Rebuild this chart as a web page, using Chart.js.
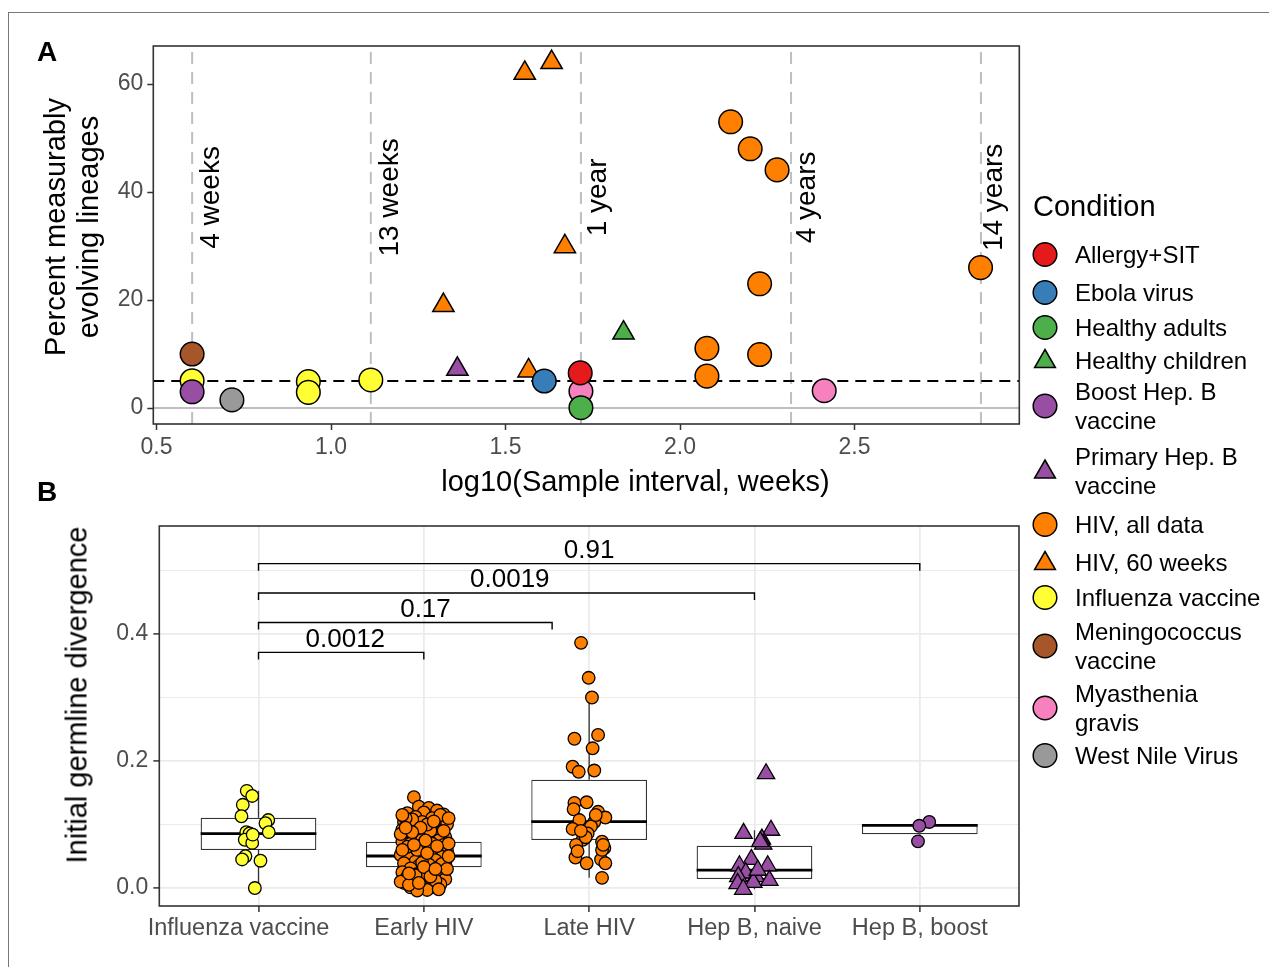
<!DOCTYPE html>
<html>
<head>
<meta charset="utf-8">
<script src="https://cdn.jsdelivr.net/npm/chart.js@4.4.1/dist/chart.umd.min.js"></script>
<style>
body { margin: 0; background: #fff; }
#page { position: relative; width: 1269px; height: 967px; overflow: hidden; background: #fff;
        font-family: 'Liberation Sans', Arial, Helvetica, sans-serif; }
#frame { position: absolute; left: 8px; top: 12px; width: 1300px; height: 1000px;
         border-top: 1px solid #777; border-left: 1px solid #777; }
canvas { position: absolute; left: 0; }
.panel-tag { position: absolute; font-weight: bold; font-size: 28px; transform: translate(-50%, -50%); }
.axis-title { position: absolute; font-size: 29px; color: #000; white-space: nowrap; text-align: center;
              transform: translate(-50%, -50%); line-height: 33px; }
.axis-title.rot { transform: translate(-50%, -50%) rotate(-90deg); }
#legend { position: absolute; left: 1031px; top: 0; color: #000; }
#legend .ttl { position: absolute; left: 2px; top: 206px; transform: translateY(-50%);
               font-size: 29px; line-height: 36px; white-space: nowrap; }
#legend .row { position: absolute; left: 0; display: flex; align-items: center; transform: translateY(-50%); }
#legend .key { width: 28px; height: 28px; margin-right: 16px; flex: none; }
#legend .txt { font-size: 24px; line-height: 29px; white-space: pre; }
</style>
</head>
<body>
<div id="page">
  <div id="frame"></div>
  <canvas id="chartA" width="1269" height="470" style="top:0"></canvas>
  <canvas id="chartB" width="1269" height="497" style="top:470px"></canvas>
  <div class="panel-tag" style="left:47px;top:52px">A</div>
  <div class="panel-tag" style="left:47px;top:492px">B</div>
  <div class="axis-title rot" style="left:71.5px;top:227px">Percent measurably<br>evolving lineages</div>
  <div class="axis-title" style="left:635.5px;top:481px">log10(Sample interval, weeks)</div>
  <div class="axis-title rot" style="left:77px;top:695px">Initial germline divergence</div>
  <div id="legend"><div class="ttl">Condition</div></div>
</div>
<script>
// ---------- Panel A: percent measurably evolving lineages vs log10(interval) ----------
const allergySit = [[1.714, 6.5]];
const ebolaVirus = [[1.611, 5.0]];
const healthyAdults = [[1.716, 0.05]];
const healthyChildren = [[1.838, 13.9]];
const boostHepB = [[0.602, 3.0]];
const primaryHepB = [[1.362, 7.2]];
const hivAllData = [[2.145, 53.0], [2.201, 48.0], [2.278, 44.1], [2.228, 23.0], [2.077, 11.05],
                    [2.228, 9.9], [2.077, 5.9], [2.861, 26.0]];
const hiv60Weeks = [[1.322, 19.0], [1.566, 6.9], [1.555, 62.0], [1.632, 64.0], [1.670, 29.9]];
const influenzaVaccine = [[0.602, 5.06], [0.935, 4.9], [0.935, 2.9], [1.114, 5.2]];
const meningococcusVaccine = [[0.602, 10.0]];
const myastheniaGravis = [[1.716, 3.1], [2.413, 3.2]];
const westNileVirus = [[0.716, 1.5]];

const conditionNames = ['Allergy+SIT', 'Ebola virus', 'Healthy adults', 'Healthy children',
  'Boost Hep. B\nvaccine', 'Primary Hep. B\nvaccine', 'HIV, all data', 'HIV, 60 weeks',
  'Influenza vaccine', 'Meningococcus\nvaccine', 'Myasthenia\ngravis', 'West Nile Virus'];
const conditionData = [allergySit, ebolaVirus, healthyAdults, healthyChildren, boostHepB, primaryHepB,
  hivAllData, hiv60Weeks, influenzaVaccine, meningococcusVaccine, myastheniaGravis, westNileVirus];
const conditionColors = ['#E41A1C', '#377EB8', '#4DAF4A', '#4DAF4A', '#984EA3', '#984EA3',
  '#FF7F00', '#FF7F00', '#FFFF33', '#A65628', '#F781BF', '#999999'];
const conditionShapes = ['circle', 'circle', 'circle', 'triangle', 'circle', 'triangle',
  'circle', 'triangle', 'circle', 'circle', 'circle', 'circle'];

const refWeeks = [4, 13, 52, 208, 728];
const refLabels = ['4 weeks', '13 weeks', '1 year', '4 years', '14 years'];
const refLabelY = 39;
const thresholdPct = 5;
const xTicksA = [0.5, 1.0, 1.5, 2.0, 2.5];
const yTicksA = [0, 20, 40, 60];

// ---------- Panel B: initial germline divergence by group ----------
const groupNames = ['Influenza vaccine', 'Early HIV', 'Late HIV', 'Hep B, naive', 'Hep B, boost'];
const boxQ1 = [0.0598, 0.0326, 0.0756, 0.0142, 0.0845];
const boxMedian = [0.0855, 0.0504, 0.1045, 0.0283, 0.0987];
const boxQ3 = [0.1107, 0.0729, 0.1706, 0.0667, 0.1003];
const whiskerLow = [0.0, -0.004, 0.016, -0.002, 0.0735];
const whiskerHigh = [0.153, 0.131, 0.300, 0.091, 0.104];

const fluPoints = [[0.929, 0.153], [0.962, 0.145], [0.905, 0.131], [0.897, 0.113], [1.059, 0.107],
  [1.042, 0.102], [1.062, 0.088], [0.926, 0.088], [0.946, 0.086], [0.917, 0.076], [0.962, 0.071],
  [0.921, 0.050], [0.901, 0.045], [1.012, 0.043], [0.978, 0.000], [0.965, 0.084]];
const earlyHivPoints = [
  [1.94, 0.143], [1.97, 0.128], [2.03, 0.126], [2.08, 0.122], [1.90, 0.118], [2.00, 0.119], [2.12, 0.116],
  [1.95, 0.112], [2.05, 0.110], [2.10, 0.106], [1.88, 0.104], [1.99, 0.104], [2.14, 0.100], [1.92, 0.098],
  [2.03, 0.097], [2.07, 0.094], [1.87, 0.092], [1.96, 0.090], [2.11, 0.089], [2.01, 0.086], [1.90, 0.084],
  [2.06, 0.083], [2.13, 0.080], [1.94, 0.079], [1.99, 0.076], [2.09, 0.075], [1.87, 0.073], [2.03, 0.072],
  [1.92, 0.070], [2.12, 0.068], [1.97, 0.066], [2.06, 0.064], [1.89, 0.062], [2.01, 0.061], [2.14, 0.059],
  [1.94, 0.057], [2.08, 0.056], [1.98, 0.054], [1.86, 0.052], [2.04, 0.051], [2.11, 0.049], [1.91, 0.047],
  [2.00, 0.046], [2.07, 0.044], [1.95, 0.042], [2.13, 0.040], [1.88, 0.039], [2.03, 0.037], [1.97, 0.035],
  [2.09, 0.033], [1.92, 0.031], [2.01, 0.029], [2.12, 0.027], [1.87, 0.025], [2.05, 0.024], [1.96, 0.022],
  [2.08, 0.020], [1.90, 0.018], [2.00, 0.016], [2.13, 0.014], [1.94, 0.012], [2.04, 0.010], [1.88, 0.008],
  [2.10, 0.006], [1.98, 0.004], [2.06, 0.002], [1.92, 0.001], [2.02, -0.003], [1.96, 0.060], [2.04, 0.090],
  [1.93, 0.108], [2.10, 0.115], [1.99, 0.040], [2.05, 0.070], [1.90, 0.065], [2.11, 0.038], [1.95, 0.020],
  [2.07, 0.012], [2.02, 0.100], [1.89, 0.110], [1.86, 0.010], [1.87, 0.060], [1.86, 0.085], [1.87, 0.115],
  [2.15, 0.110], [2.15, 0.070], [2.14, 0.030], [2.15, 0.050], [2.09, -0.002], [1.96, -0.004], [1.91, 0.005],
  [2.02, 0.055], [1.98, 0.095], [2.06, 0.105], [1.93, 0.088], [2.00, 0.033], [2.08, 0.066], [1.91, 0.023],
  [2.04, 0.018], [1.97, 0.008], [2.12, 0.090], [1.89, 0.095], [2.01, 0.075], [1.94, 0.068], [2.07, 0.030]];
const lateHivPoints = [[2.951, 0.386], [2.997, 0.331], [3.017, 0.300], [2.911, 0.235], [3.054, 0.241],
  [3.021, 0.220], [2.900, 0.191], [2.937, 0.183], [3.031, 0.185], [2.911, 0.134], [2.985, 0.135],
  [2.906, 0.124], [3.054, 0.120], [3.098, 0.111], [2.941, 0.107], [3.031, 0.104], [3.011, 0.097],
  [2.900, 0.093], [2.991, 0.086], [2.961, 0.076], [2.921, 0.068], [3.078, 0.073], [3.092, 0.063],
  [2.917, 0.048], [2.985, 0.039], [3.072, 0.045], [3.098, 0.039], [3.078, 0.016], [2.979, 0.080],
  [3.078, 0.060], [2.950, 0.090], [3.040, 0.115], [2.930, 0.058], [3.085, 0.068]];
const hepBNaivePoints = [[4.070, 0.180], [3.934, 0.086], [4.100, 0.091], [4.045, 0.077], [4.053, 0.069],
  [3.981, 0.045], [3.909, 0.035], [4.080, 0.035], [3.947, 0.024], [4.008, 0.018], [3.902, 0.018],
  [4.090, 0.012], [3.993, 0.009], [3.898, 0.007], [3.932, -0.002], [4.035, 0.073], [4.020, 0.028]];
const hepBBoostPoints = [[5.057, 0.104], [4.997, 0.098], [4.989, 0.0735]];

const bracketStart = [1, 1, 1, 1];
const bracketEnd = [2, 2.776, 4, 5];
const bracketY = [0.371, 0.418, 0.4646, 0.5107];
const bracketLabelX = [1.525, 2.01, 2.52, 3.0];
const bracketLabels = ['0.0012', '0.17', '0.0019', '0.91'];
const yTicksB = [0, 0.1, 0.2, 0.3, 0.4, 0.5];

// ---------- shared helpers ----------
const FONT = "'Liberation Sans', Arial, Helvetica, sans-serif";
Chart.defaults.font.family = FONT;
const toXY = pairs => pairs.map(p => ({ x: p[0], y: p[1] }));
const tickFont = { size: 23, family: FONT };
const TICK_GREY = '#4D4D4D';

function framePlugin(id) {
    return {
        id,
        afterDraw(chart) {
            const { ctx, chartArea: a } = chart;
            ctx.save();
            ctx.strokeStyle = '#333';
            ctx.lineWidth = 1.6;
            ctx.strokeRect(a.left, a.top, a.right - a.left, a.bottom - a.top);
            ctx.restore();
        }
    };
}

// ---------- Panel A ----------
const xMinA = 0.4908, xMaxA = 2.972, yMinA = -2.96, yMaxA = 67.04;
const refLabelShift = [19, 19.5, 17, 16, 13]; // px to the right of each dashed line

const refDatasets = [
    { type: 'line', data: [{ x: xMinA, y: 0 }, { x: xMaxA, y: 0 }], borderColor: '#BEBEBE', borderWidth: 2 },
    { type: 'line', data: [{ x: xMinA, y: thresholdPct }, { x: xMaxA, y: thresholdPct }],
      borderColor: '#000', borderWidth: 2, borderDash: [11, 7] },
    ...refWeeks.map(w => ({
        type: 'line',
        data: [{ x: Math.log10(w), y: yMinA }, { x: Math.log10(w), y: yMaxA }],
        borderColor: '#BEBEBE', borderWidth: 2, borderDash: [12, 8]
    }))
].map(d => ({ ...d, pointRadius: 0, fill: false, tension: 0, order: 10 }));

const conditionDatasets = conditionNames.map((name, i) => ({
    type: 'scatter',
    label: name,
    data: toXY(conditionData[i]),
    pointStyle: conditionShapes[i],
    pointRadius: conditionShapes[i] === 'triangle' ? 12.3 : 11.8,
    backgroundColor: conditionColors[i],
    borderColor: '#000',
    borderWidth: 1.5,
    order: name === 'Healthy adults' ? -1 : 0
}));

const refLabelPlugin = {
    id: 'refLabels',
    afterDatasetsDraw(chart) {
        const { ctx, scales: { x, y } } = chart;
        ctx.save();
        ctx.font = `28px ${FONT}`;
        ctx.fillStyle = '#000';
        ctx.textAlign = 'center';
        ctx.textBaseline = 'middle';
        refWeeks.forEach((w, i) => {
            ctx.save();
            ctx.translate(x.getPixelForValue(Math.log10(w)) + refLabelShift[i], y.getPixelForValue(refLabelY));
            ctx.rotate(-Math.PI / 2);
            ctx.fillText(refLabels[i], 0, 0);
            ctx.restore();
        });
        ctx.restore();
    }
};

new Chart(document.getElementById('chartA'), {
    type: 'scatter',
    data: { datasets: [...refDatasets, ...conditionDatasets] },
    options: {
        responsive: false,
        animation: false,
        events: [],
        layout: { padding: { left: 0, top: 46, right: 249.7, bottom: 0 } },
        plugins: { legend: { display: false }, tooltip: { enabled: false } },
        scales: {
            x: {
                type: 'linear', min: xMinA, max: xMaxA,
                afterBuildTicks: s => { s.ticks = xTicksA.map(v => ({ value: v })); },
                afterFit: s => { s.height = 46; },
                grid: { drawOnChartArea: false, tickLength: 6, tickColor: '#333', tickWidth: 1.5 },
                border: { display: false },
                ticks: { font: tickFont, color: TICK_GREY, padding: 4, maxRotation: 0, autoSkip: false,
                         callback: v => v.toFixed(1) }
            },
            y: {
                type: 'linear', min: yMinA, max: yMaxA,
                afterBuildTicks: s => { s.ticks = yTicksA.map(v => ({ value: v })); },
                afterFit: s => { s.width = 153.3; },
                grid: { drawOnChartArea: false, tickLength: 6, tickColor: '#333', tickWidth: 1.5 },
                border: { display: false },
                ticks: { font: tickFont, color: TICK_GREY, padding: 4, autoSkip: false,
                         callback: v => String(v) }
            }
        }
    },
    plugins: [refLabelPlugin, framePlugin('frameA')]
});

// ---------- Panel B ----------
const xMinB = 0.4, xMaxB = 5.6, yMinB = -0.0283, yMaxB = 0.570;
const halfBox = 0.35;
const tipLen = 0.011;
const groupLabelShift = [-20, 0, 0, 0, 0]; // the first label sits left of its tick in the original
const isMajorB = v => Math.round(v * 10) % 2 === 0;

const whiskerData = [];
const medianData = [];
groupNames.forEach((g, i) => {
    const cx = i + 1;
    whiskerData.push({ x: cx, y: boxQ3[i] }, { x: cx, y: whiskerHigh[i] }, { x: cx, y: null },
                     { x: cx, y: boxQ1[i] }, { x: cx, y: whiskerLow[i] }, { x: cx, y: null });
    medianData.push({ x: cx - halfBox, y: boxMedian[i] }, { x: cx + halfBox, y: boxMedian[i] }, { x: cx, y: null });
});
const bracketData = [];
bracketY.forEach((by, i) => {
    bracketData.push({ x: bracketStart[i], y: by - tipLen }, { x: bracketStart[i], y: by },
                     { x: bracketEnd[i], y: by }, { x: bracketEnd[i], y: by - tipLen }, { x: bracketEnd[i], y: null });
});

const lineStyle = { pointRadius: 0, fill: false, tension: 0, spanGaps: false };
const pointStyleB = (color, shape) => ({
    type: 'scatter', backgroundColor: color, borderColor: '#000', borderWidth: 1.3,
    pointStyle: shape, pointRadius: shape === 'triangle' ? 10 : 6.3, order: 1
});

const panelBTextPlugin = {
    id: 'panelBText',
    afterDatasetsDraw(chart) {
        const { ctx, chartArea, scales: { x, y } } = chart;
        ctx.save();
        ctx.font = `26px ${FONT}`;
        ctx.fillStyle = '#000';
        ctx.textAlign = 'center';
        ctx.textBaseline = 'middle';
        bracketLabels.forEach((t, i) => {
            ctx.fillText(t, x.getPixelForValue(bracketLabelX[i]), y.getPixelForValue(bracketY[i]) - 13);
        });
        // category labels under the axis
        ctx.font = `23.5px ${FONT}`;
        ctx.fillStyle = TICK_GREY;
        ctx.textBaseline = 'top';
        groupNames.forEach((g, i) => {
            ctx.fillText(g, x.getPixelForValue(i + 1) + groupLabelShift[i], chartArea.bottom + 11);
        });
        ctx.restore();
    }
};

new Chart(document.getElementById('chartB'), {
    type: 'scatter',
    data: {
        datasets: [
            { type: 'line', data: whiskerData, borderColor: '#333', borderWidth: 1.3, order: 4, ...lineStyle },
            {
                type: 'bar',
                data: groupNames.map((g, i) => ({ x: i + 1, y: [boxQ1[i], boxQ3[i]] })),
                backgroundColor: '#FFFFFF', borderColor: '#333', borderWidth: 1.3, borderSkipped: false,
                barPercentage: 0.7, categoryPercentage: 1.0, order: 3
            },
            { type: 'line', data: medianData, borderColor: '#000', borderWidth: 2.8, order: 2, ...lineStyle },
            { ...pointStyleB('#FFFF33', 'circle'), data: toXY(fluPoints) },
            { ...pointStyleB('#FF7F00', 'circle'), data: toXY(earlyHivPoints) },
            { ...pointStyleB('#FF7F00', 'circle'), data: toXY(lateHivPoints) },
            { ...pointStyleB('#984EA3', 'triangle'), data: toXY(hepBNaivePoints) },
            { ...pointStyleB('#984EA3', 'circle'), data: toXY(hepBBoostPoints) },
            { type: 'line', data: bracketData, borderColor: '#000', borderWidth: 1.4, order: 0, ...lineStyle }
        ]
    },
    options: {
        responsive: false,
        animation: false,
        events: [],
        layout: { padding: { left: 0, top: 56, right: 250, bottom: 0 } },
        plugins: { legend: { display: false }, tooltip: { enabled: false } },
        scales: {
            x: {
                type: 'linear', min: xMinB, max: xMaxB, offset: false,
                afterBuildTicks: s => { s.ticks = groupNames.map((g, i) => ({ value: i + 1 })); },
                afterFit: s => { s.height = 61; },
                grid: { offset: false, color: '#EBEBEB', lineWidth: 1.8, tickLength: 6, tickColor: '#333', tickWidth: 1.5 },
                border: { display: false },
                ticks: { font: tickFont, color: TICK_GREY, padding: 4, maxRotation: 0, autoSkip: false,
                         callback: () => '' }
            },
            y: {
                type: 'linear', min: yMinB, max: yMaxB,
                afterBuildTicks: s => { s.ticks = yTicksB.map(v => ({ value: v })); },
                afterFit: s => { s.width = 159.3; },
                grid: {
                    color: '#EBEBEB',
                    lineWidth: c => (c.tick && isMajorB(c.tick.value) ? 1.8 : 1),
                    tickLength: 6,
                    tickColor: c => (c.tick && isMajorB(c.tick.value) ? '#333' : 'rgba(0,0,0,0)'),
                    tickWidth: 1.5
                },
                border: { display: false },
                ticks: { font: tickFont, color: TICK_GREY, padding: 5, autoSkip: false,
                         callback: v => (isMajorB(v) ? v.toFixed(1) : '') }
            }
        }
    },
    plugins: [panelBTextPlugin, framePlugin('frameB')]
});

// ---------- Legend (HTML) ----------
const legendRowCenter = [254, 292, 327, 360, 405.5, 470.5, 524, 562, 597, 645.5, 707.5, 755];
const legendBox = document.getElementById('legend');
conditionNames.forEach((name, i) => {
    const row = document.createElement('div');
    row.className = 'row';
    row.style.top = legendRowCenter[i] + 'px';
    const shape = conditionShapes[i] === 'triangle'
        ? `<polygon points="14,3 24.4,21 3.6,21" fill="${conditionColors[i]}" stroke="#000" stroke-width="1.5"/>`
        : `<circle cx="14" cy="14" r="11.8" fill="${conditionColors[i]}" stroke="#000" stroke-width="1.5"/>`;
    row.innerHTML = `<svg class="key" viewBox="0 0 28 28">${shape}</svg><div class="txt"></div>`;
    row.querySelector('.txt').textContent = name;
    legendBox.appendChild(row);
});
</script>
</body>
</html>
